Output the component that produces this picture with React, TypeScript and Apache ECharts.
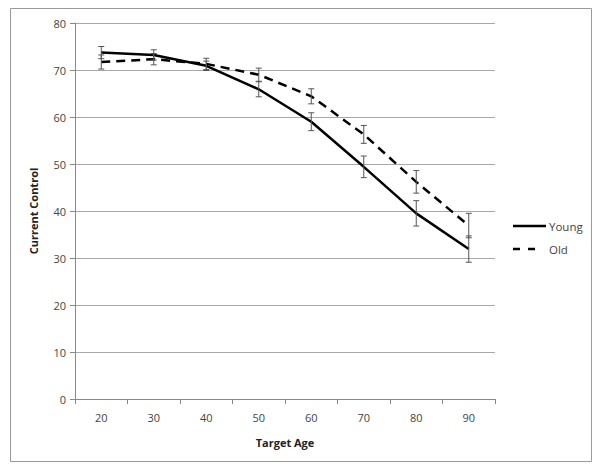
import React, { useEffect, useRef } from "react";
import * as echarts from "echarts";

const categories = ["20", "30", "40", "50", "60", "70", "80", "90"];
const youngValues = [73.7, 73.2, 70.9, 65.9, 59.0, 49.4, 39.5, 31.9];
const youngErr = [1.3, 1.1, 1.0, 1.6, 1.9, 2.3, 2.7, 2.8];
const oldValues = [71.7, 72.3, 71.3, 69.0, 64.4, 56.3, 46.2, 36.9];
const oldErr = [1.5, 1.2, 1.2, 1.4, 1.6, 1.9, 2.4, 2.6];
const legendNames = ["Young", "Old"];
const yTicks = { min: 0, max: 80, interval: 10 };

const font = "'Open Sans', 'Liberation Sans', sans-serif";

function errData(vals: number[], errs: number[]) {
  return vals.map((v, i) => [i, v - errs[i], v + errs[i]]);
}

function renderErr(params: any, api: any) {
  const x = api.value(0);
  const lo = api.coord([x, api.value(1)]);
  const hi = api.coord([x, api.value(2)]);
  const w = 3;
  const style = { stroke: "#555555", lineWidth: 1 };
  return {
    type: "group",
    children: [
      { type: "line", shape: { x1: lo[0], y1: lo[1], x2: hi[0], y2: hi[1] }, style },
      { type: "line", shape: { x1: lo[0] - w, y1: lo[1], x2: lo[0] + w, y2: lo[1] }, style },
      { type: "line", shape: { x1: hi[0] - w, y1: hi[1], x2: hi[0] + w, y2: hi[1] }, style },
    ],
  };
}

export default function App() {
  const ref = useRef<HTMLDivElement>(null);
  useEffect(() => {
    if (!ref.current) return;
    const chart = echarts.init(ref.current, null, { renderer: "svg" });
    chart.setOption({
      animation: false,
      backgroundColor: "#ffffff",
      textStyle: { fontFamily: font },
      graphic: [
        {
          type: "rect",
          shape: { x: 10.5, y: 8.5, width: 581, height: 453 },
          style: { fill: "none", stroke: "#9a9a9a", lineWidth: 1 },
          silent: true,
        },
        {
          type: "line",
          shape: { x1: 513, y1: 226, x2: 546, y2: 226 },
          style: { stroke: "#000", lineWidth: 2.5 },
        },
        {
          type: "text",
          x: 549,
          y: 226,
          style: { text: legendNames[0], fill: "#444", font: `11.5px ${font}`, verticalAlign: "middle" },
        },
        {
          type: "line",
          shape: { x1: 513, y1: 249, x2: 538, y2: 249 },
          style: { stroke: "#000", lineWidth: 2.5, lineDash: [7, 8] },
        },
        {
          type: "text",
          x: 549,
          y: 249,
          style: { text: legendNames[1], fill: "#444", font: `11.5px ${font}`, verticalAlign: "middle" },
        },
      ],
      grid: { left: 75, top: 23, right: 105, bottom: 74 },
      xAxis: {
        type: "category",
        data: categories,
        boundaryGap: true,
        name: "Target Age",
        nameLocation: "middle",
        nameGap: 38,
        nameTextStyle: { color: "#222", fontSize: 11, fontWeight: "bold", fontFamily: font },
        axisLine: { lineStyle: { color: "#888", width: 1 } },
        axisTick: { show: true, alignWithLabel: false, length: 5, lineStyle: { color: "#888" } },
        axisLabel: { color: "#444", fontSize: 11, margin: 13 },
      },
      yAxis: {
        type: "value",
        min: yTicks.min,
        max: yTicks.max,
        interval: yTicks.interval,
        name: "Current Control",
        nameLocation: "middle",
        nameGap: 36,
        nameTextStyle: { color: "#222", fontSize: 11, fontWeight: "bold", fontFamily: font },
        axisLine: { show: true, lineStyle: { color: "#888", width: 1 } },
        axisTick: { show: true, length: 5, inside: false, lineStyle: { color: "#888" } },
        axisLabel: { color: "#444", fontSize: 11, margin: 9 },
        splitLine: { show: true, lineStyle: { color: "#a8a8a8", width: 1 } },
      },
      series: [
        {
          name: "Young",
          type: "line",
          data: youngValues,
          symbol: "none",
          lineStyle: { color: "#000", width: 2.5, type: "solid" },
          itemStyle: { color: "#000" },
          z: 3,
        },
        {
          name: "Old",
          type: "line",
          data: oldValues,
          symbol: "none",
          lineStyle: { color: "#000", width: 2.5, type: [9, 6] },
          itemStyle: { color: "#000" },
          z: 3,
        },
        {
          type: "custom",
          renderItem: renderErr,
          data: errData(youngValues, youngErr),
          encode: { x: 0, y: [1, 2] },
          z: 4,
        },
        {
          type: "custom",
          renderItem: renderErr,
          data: errData(oldValues, oldErr),
          encode: { x: 0, y: [1, 2] },
          z: 4,
        },
      ],
    });
    return () => chart.dispose();
  }, []);
  return (
    <div
      ref={ref}
      style={{ position: "absolute", left: 0, top: 0, width: 600, height: 473 }}
    />
  );
}
